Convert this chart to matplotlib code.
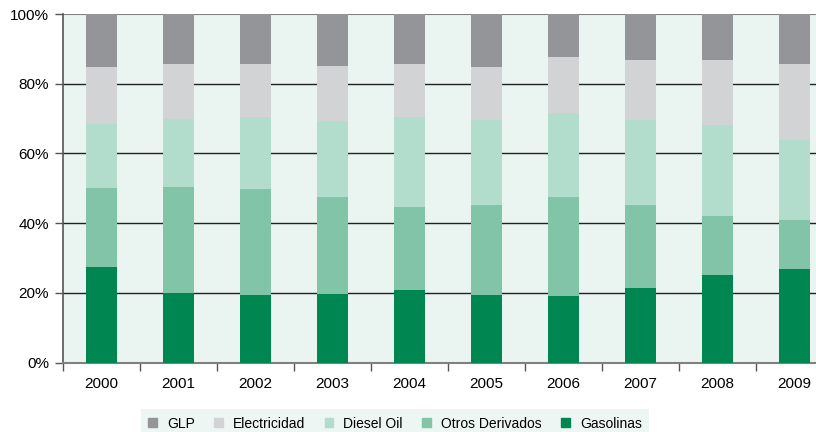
import numpy as np
import matplotlib.pyplot as plt
from matplotlib.patches import Patch

plt.rcParams['font.family'] = ['Liberation Sans', 'DejaVu Sans']

years = ['2000', '2001', '2002', '2003', '2004', '2005', '2006', '2007', '2008', '2009']
gasolinas = [27.4, 20.0, 19.4, 19.7, 20.8, 19.4, 19.1, 21.4, 25.2, 26.9]
otros = [22.7, 30.4, 30.4, 27.8, 23.8, 25.8, 28.4, 23.8, 16.9, 14.0]
diesel = [18.4, 19.5, 20.7, 21.8, 25.9, 24.4, 24.1, 24.4, 26.1, 23.0]
electricidad = [16.3, 15.8, 15.2, 15.8, 15.2, 15.2, 16.1, 17.2, 18.6, 21.8]
glp = [15.2, 14.3, 14.3, 14.9, 14.3, 15.2, 12.3, 13.2, 13.2, 14.3]

series = [
    ('Gasolinas', gasolinas, '#008751'),
    ('Otros Derivados', otros, '#82C4A8'),
    ('Diesel Oil', diesel, '#B2DCCB'),
    ('Electricidad', electricidad, '#D1D3D4'),
    ('GLP', glp, '#939598'),
]

fig = plt.figure(figsize=(8.16, 4.32), dpi=100)
# axes run past the right edge, the original image is cropped there
ax = fig.add_axes([63 / 816, 1 - 362.7 / 432, 770 / 816, 348.7 / 432])
ax.set_facecolor('#EAF4F0')

x = np.arange(len(years))
bottom = np.zeros(len(years))
for name, vals, col in series:
    vals = np.array(vals)
    ax.bar(x, vals, width=0.39, bottom=bottom, color=col, zorder=3)
    bottom += vals

ax.set_ylim(0, 100)
ax.set_xlim(-0.5, len(years) - 0.5)
ax.set_yticks([0, 20, 40, 60, 80, 100])
ax.set_yticklabels(['0%', '20%', '40%', '60%', '80%', '100%'], fontsize=11)
for y in [20, 40, 60, 80]:
    ax.axhline(y, color='#222222', lw=1.0, zorder=2)
ax.axhline(100, color='#808080', lw=1.5, zorder=2)

ax.set_xticks(x)
ax.set_xticklabels(years, fontsize=11)
ax.set_xticks(np.arange(-0.5, len(years)), minor=True)
ax.tick_params(axis='x', which='major', length=0, pad=10)
ax.tick_params(axis='x', which='minor', length=6, color='#555555', width=1)
ax.tick_params(axis='y', length=6, color='#555555', width=1, pad=4)

for s in ['top', 'right']:
    ax.spines[s].set_visible(False)
ax.spines['left'].set_color('#555555')
ax.spines['left'].set_linewidth(1.2)
ax.spines['bottom'].set_color('#808080')
ax.spines['bottom'].set_linewidth(1.5)

handles = [Patch(color=c, label=n) for n, _, c in series[::-1]]
leg = fig.legend(handles=handles, loc='upper center', bbox_to_anchor=(395 / 816, 1 - 409 / 432),
                 ncol=5, frameon=True, fontsize=10, handlelength=0.6, handleheight=0.6,
                 handletextpad=0.75, columnspacing=1.4, borderpad=0.55, borderaxespad=0)
leg.get_frame().set_facecolor('#EAF4F0')
leg.get_frame().set_edgecolor('none')
leg.get_frame().set_boxstyle('square', pad=0)

fig.savefig('out.png', dpi=100)
